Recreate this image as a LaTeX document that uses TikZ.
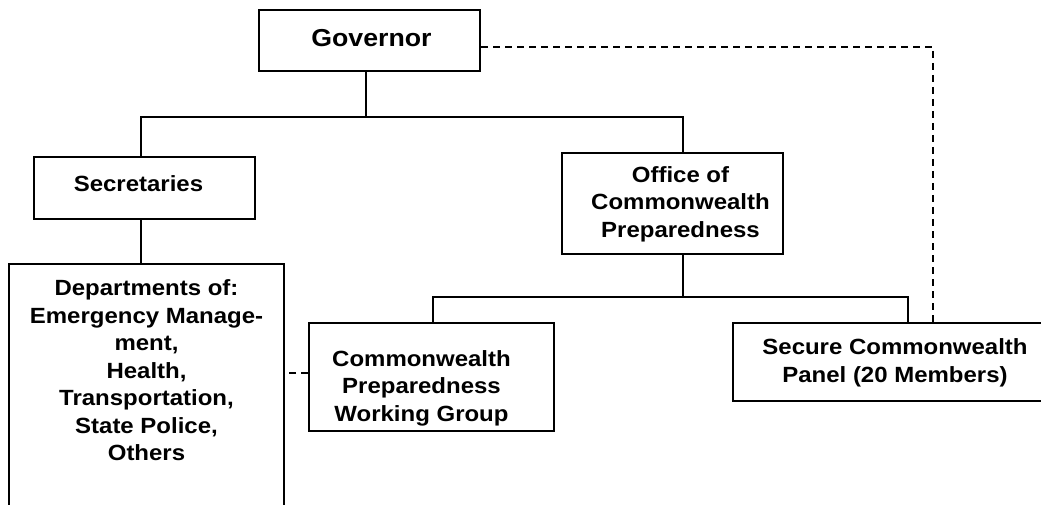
\documentclass[tikz,border=0pt]{standalone}
\usepackage{fontspec}
\newfontfamily\orgfont{Liberation Sans}[FakeStretch=1.09]
\usepackage{tikz}

\begin{document}
\begin{tikzpicture}[x=1pt,y=-1pt]
\tikzstyle{box}=[draw,line width=2pt,inner sep=0pt]
\tikzstyle{txt}=[font=\orgfont\bfseries\fontsize{22}{27.5}\selectfont,align=center,inner sep=0pt,anchor=north]
\tikzstyle{link}=[line width=2pt]
\tikzstyle{assoc}=[line width=1.6pt,dash pattern=on 7pt off 5pt]

\clip (0,0) rectangle (1041,505);

% boxes
\node[box,minimum width=221,minimum height=61] (G) at (369.5,40.5) {};
\node[box,minimum width=221,minimum height=62] (S) at (144.5,188) {};
\node[box,minimum width=221,minimum height=101] (O) at (672.5,203.5) {};
\node[box,minimum width=275,minimum height=300,anchor=north] (D) at (146.5,263) {};
\node[box,minimum width=245,minimum height=108] (W) at (431.5,377) {};
\node[box,minimum width=330,minimum height=78,anchor=west] (P) at (732,362) {};

% texts
\node[txt,font=\orgfont\bfseries\fontsize{24.5}{27.5}\selectfont] (Gt) at (371.5,29.5) {Governor};
\node[txt] (St) at (138.5,175) {Secretaries};
\node[txt] (Ot) at (680.5,166) {Office of\\Commonwealth\\Preparedness};
\node[txt] (Dt) at (146.5,279.5) {Departments of:\\Emergency Manage-\\ment,\\Health,\\Transportation,\\State Police,\\Others};
\node[txt] (Wt) at (421.5,350) {Commonwealth\\Preparedness\\Working Group};
\node[txt] (Pt) at (895,338.5) {Secure Commonwealth\\Panel (20 Members)};

% lines
\coordinate (J1) at (366,117);
\coordinate (J2) at (683,297);
\draw[link] (G.south -| J1) -- (J1);
\draw[link] ([xshift=-3.5pt]S.north) |- (J1) -| ([xshift=10.5pt]O.north);
\draw[link] ([xshift=-3.5pt]S.south) -- ([xshift=-3.5pt]S.south |- D.north);
\draw[link] (O.south -| J2) -- (J2);
\draw[link] ([xshift=1.5pt]W.north) |- (J2) -| ([xshift=10pt]P.north);
\draw[assoc] ([yshift=-6.5pt]G.east) -| ([xshift=35pt]P.north);
\draw[assoc] ([yshift=4pt]W.west) -- ([yshift=4pt]W.west -| D.east);
\end{tikzpicture}
\end{document}
